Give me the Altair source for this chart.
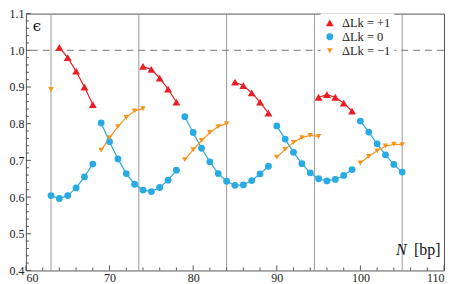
import altair as alt
import pandas as pd

# ---------------- data ----------------
SERIES = ["ΔLk = +1", "ΔLk = 0", "ΔLk = −1"]
COLORS = ["#EC1C24", "#29ABE2", "#F7941D"]
SHAPES = ["triangle-up", "circle", "triangle-down"]

# each segment: (first N, list of epsilon values at consecutive N)
RED_SEGMENTS = [
    (64, [1.008, 0.980, 0.943, 0.900, 0.852]),
    (74, [0.956, 0.948, 0.924, 0.894, 0.859]),
    (85, [0.913, 0.904, 0.884, 0.859, 0.829]),
    (95, [0.872, 0.879, 0.872, 0.856, 0.834]),
]
BLUE_SEGMENTS = [
    (63, [0.604, 0.596, 0.604, 0.625, 0.655, 0.690]),
    (69, [0.802, 0.751, 0.704, 0.664, 0.635, 0.619, 0.615, 0.626, 0.646, 0.673]),
    (79, [0.819, 0.776, 0.733, 0.696, 0.664, 0.643, 0.632, 0.633, 0.645, 0.663, 0.684]),
    (90, [0.794, 0.758, 0.722, 0.691, 0.666, 0.650, 0.644, 0.648, 0.659, 0.675]),
    (100, [0.807, 0.777, 0.745, 0.715, 0.689, 0.668]),
]
ORANGE_SEGMENTS = [
    (63, [0.893]),
    (69, [0.728, 0.762, 0.792, 0.817, 0.835, 0.841]),
    (79, [0.702, 0.729, 0.754, 0.776, 0.792, 0.800]),
    (90, [0.709, 0.730, 0.749, 0.762, 0.768, 0.765]),
    (100, [0.693, 0.711, 0.726, 0.739, 0.744, 0.743]),
]
VLINES = [63, 73.5, 84, 94.5, 105]
HLINE = [1.0]
X_MAJOR = [60, 70, 80, 90, 100, 110]
Y_MAJOR = [0.4, 0.5, 0.6, 0.7, 0.8, 0.9, 1.0, 1.1]
X_MINOR = [v for v in range(60, 111, 2) if v % 10 != 0]
Y_MINOR = [round(0.4 + 0.02 * i, 2) for i in range(36) if i % 5 != 0]

# ---------------- build table ----------------
rows = []
for name, color, segs in zip(SERIES, COLORS, [RED_SEGMENTS, BLUE_SEGMENTS, ORANGE_SEGMENTS]):
    for k, (start, vals) in enumerate(segs):
        for i, v in enumerate(vals):
            rows.append({"N": start + i, "eps": v, "series": name,
                         "seg": f"{name}-{k}", "hex": color})
df = pd.DataFrame(rows)

W, H = 420, 258
FONT = "Liberation Serif, DejaVu Serif, serif"

xs = alt.Scale(domain=[60, 110], nice=False, zero=False)
ys = alt.Scale(domain=[0.4, 1.1], nice=False, zero=False)

xaxis = alt.Axis(values=X_MAJOR, ticks=False, domain=False, grid=False,
                 labelFont=FONT, labelFontSize=12, labelColor="#222",
                 labelPadding=2, title=None)
yaxis = alt.Axis(values=Y_MAJOR, format=".1f", ticks=False, domain=False, grid=False,
                 labelFont=FONT, labelFontSize=12, labelColor="#222",
                 labelPadding=2, title=None)

base_x = alt.X("N:Q", scale=xs, axis=xaxis)
base_y = alt.Y("eps:Q", scale=ys, axis=yaxis)

vlines = alt.Chart(pd.DataFrame({"N": VLINES})).mark_rule(
    color="#9a9a9a", strokeWidth=1).encode(x=alt.X("N:Q", scale=xs, axis=xaxis))

hline = alt.Chart(pd.DataFrame({"eps": HLINE})).mark_rule(
    color="#777777", strokeWidth=1, strokeDash=[7, 5]).encode(y=alt.Y("eps:Q", scale=ys, axis=yaxis))

lines = alt.Chart(df).mark_line(strokeWidth=1.2).encode(
    x=base_x, y=base_y,
    color=alt.Color("hex:N", scale=None),
    detail="seg:N",
    order="N:Q",
)

points = alt.Chart(df).mark_point(filled=True, opacity=1).encode(
    x=base_x, y=base_y,
    color=alt.Color("series:N",
                    scale=alt.Scale(domain=SERIES, range=COLORS),
                    legend=alt.Legend(title=None, orient="none", legendX=296, legendY=0,
                                      fillColor="white", padding=3,
                                      labelFont=FONT, labelFontSize=12.5, labelColor="#222",
                                      labelOffset=6, rowPadding=1, symbolSize=45,
                                      symbolStrokeWidth=0)),
    shape=alt.Shape("series:N", scale=alt.Scale(domain=SERIES, range=SHAPES)),
    size=alt.Size("series:N", scale=alt.Scale(domain=SERIES, range=[62, 32, 66]), legend=None),
)

# inner tick marks (bottom and left only)
xt_major = alt.Chart(pd.DataFrame({"N": X_MAJOR})).mark_rule(color="#555", strokeWidth=1).encode(
    x=alt.X("N:Q", scale=xs, axis=xaxis), y=alt.value(H), y2=alt.value(H - 5))
xt_minor = alt.Chart(pd.DataFrame({"N": X_MINOR})).mark_rule(color="#555", strokeWidth=1).encode(
    x=alt.X("N:Q", scale=xs, axis=xaxis), y=alt.value(H), y2=alt.value(H - 3))
yt_major = alt.Chart(pd.DataFrame({"eps": Y_MAJOR})).mark_rule(color="#555", strokeWidth=1).encode(
    y=alt.Y("eps:Q", scale=ys, axis=yaxis), x=alt.value(0), x2=alt.value(5))
yt_minor = alt.Chart(pd.DataFrame({"eps": Y_MINOR})).mark_rule(color="#555", strokeWidth=1).encode(
    y=alt.Y("eps:Q", scale=ys, axis=yaxis), x=alt.value(0), x2=alt.value(3))

# axis titles inside the frame
ylab = alt.Chart(pd.DataFrame({"t": ["ϵ"]})).mark_text(
    font="DejaVu Serif", fontSize=15, align="center", baseline="middle", color="#111"
).encode(text="t:N", x=alt.value(11), y=alt.value(12))
xlab_n = alt.Chart(pd.DataFrame({"t": ["N"]})).mark_text(
    font=FONT, fontSize=16, fontStyle="italic", align="right", baseline="alphabetic", color="#111"
).encode(text="t:N", x=alt.value(W - 37.5), y=alt.value(H - 15.5))
xlab_u = alt.Chart(pd.DataFrame({"t": ["[bp]"]})).mark_text(
    font=FONT, fontSize=16, align="right", baseline="alphabetic", color="#111"
).encode(text="t:N", x=alt.value(W - 3.5), y=alt.value(H - 15.5))

chart = alt.layer(
    vlines, hline, xt_major, xt_minor, yt_major, yt_minor,
    lines, points, ylab, xlab_n, xlab_u
).properties(
    width=W, height=H,
    autosize=alt.AutoSizeParams(type="none"),
    padding={"left": 18, "top": 5, "right": 5, "bottom": 16},
).configure(
    background="white"
).configure_view(
    stroke="#555555", strokeWidth=1
)

chart.save("out.html", embed_options={"renderer": "svg", "actions": False})
